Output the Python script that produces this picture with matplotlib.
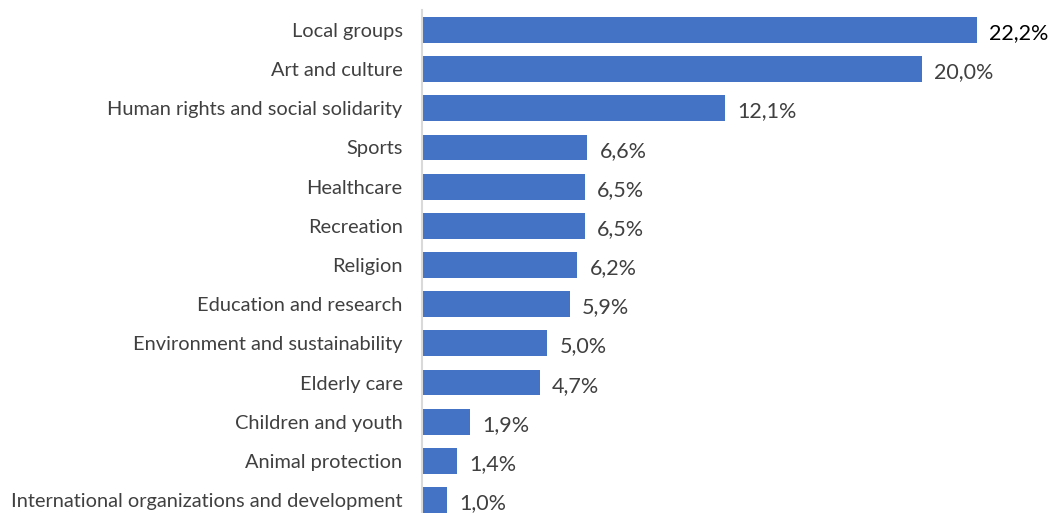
import matplotlib
matplotlib.use("Agg")
import matplotlib.pyplot as plt

categories = [
    "Local groups",
    "Art and culture",
    "Human rights and social solidarity",
    "Sports",
    "Healthcare",
    "Recreation",
    "Religion",
    "Education and research",
    "Environment and sustainability",
    "Elderly care",
    "Children and youth",
    "Animal protection",
    "International organizations and development",
]
values = [22.2, 20.0, 12.1, 6.6, 6.5, 6.5, 6.2, 5.9, 5.0, 4.7, 1.9, 1.4, 1.0]
value_labels = ["22,2%", "20,0%", "12,1%", "6,6%", "6,5%", "6,5%", "6,2%",
                "5,9%", "5,0%", "4,7%", "1,9%", "1,4%", "1,0%"]

BAR = "#4472C4"
TXT = "#404040"

plt.rcParams["font.family"] = ["Lato", "DejaVu Sans"]

W, H = 1054, 513
fig = plt.figure(figsize=(W / 100, H / 100), dpi=100)
# axes placed in pixel terms; bottom row is clipped by the figure edge
left, top, bottom = 422, 10.4, 519.6
ax = fig.add_axes([left / W, (H - bottom) / H, (W - left) / W, (bottom - top) / H])

ypos = list(range(len(categories)))
ax.barh(ypos, values, height=0.66, color=BAR, zorder=2)
ax.set_ylim(len(categories) - 0.5, -0.5)
ax.set_xlim(0, (W - left) / 25.0)

ax.set_yticks(ypos)
ax.set_yticklabels(categories, fontsize=14.4, color=TXT)
ax.tick_params(axis="y", length=0, pad=14)
ax.set_xticks([])

for s in ["top", "right", "bottom"]:
    ax.spines[s].set_visible(False)
ax.spines["left"].set_color("#D9D9D9")
ax.spines["left"].set_linewidth(1.5)

for i, (v, lbl) in enumerate(zip(values, value_labels)):
    ax.text(v + 0.5, i + 0.08, lbl, va="center", ha="left", fontsize=15.5,
            color="black" if i == 0 else TXT)

fig.savefig("out.png", dpi=100)
